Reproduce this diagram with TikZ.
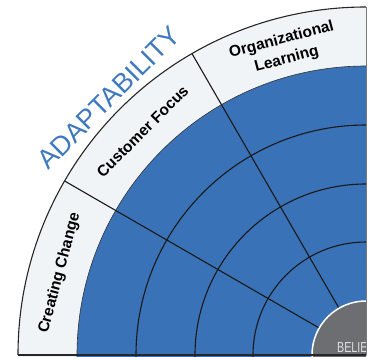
\documentclass[tikz,border=0pt]{standalone}
\usepackage{fontspec}
\setmainfont{Liberation Sans}
\definecolor{ringblue}{RGB}{58,114,183}
\definecolor{bandgray}{RGB}{241,244,246}
\definecolor{coregray}{RGB}{109,110,114}
\definecolor{titleblue}{RGB}{62,121,192}
\definecolor{edgegray}{RGB}{120,120,120}
\begin{document}
\begin{tikzpicture}[x=1pt,y=1pt]%,cap=round]
	\useasboundingbox (-366,-1) rectangle (5,355);
	\coordinate (M) at (0,0);
	\coordinate (L) at (-348,0);
	\tikzset{ringline/.style={line width=1.1pt,black!90},
		sectorlabel/.style={font=\bfseries\fontsize{15.5}{20}\selectfont}}
	\begin{scope}
		\clip (-366,-1) rectangle (0,356);
		\fill[bandgray] (M) circle (348);
		\fill[ringblue] (M) circle (289);
		\draw[line width=0.6pt,black!80] (M) circle (289);
		\foreach \r in {230,171,113}
			\draw[ringline] (M) circle (\r);
		\draw[ringline] (120:54) -- (120:348);
		\draw[ringline] (150:54) -- (150:348);
		\fill[coregray,draw=white,line width=1.5pt] (M) circle (54);
		\node[anchor=base west,text=black!12,font=\fontsize{14.5}{16}\selectfont,inner sep=0pt,xscale=0.74] (beliefs) at (-29,3) {BELIE};
	\end{scope}
	\draw[line width=1.1pt,black!85] (L) arc (180:90:348);
	\draw[line width=1.1pt,black!85] (L) -- (M);
	\draw[edgegray,line width=0.8pt] (M) -- (0,348);
	% labels of the three sectors
	\node[rotate=75,sectorlabel] (creating) at (165:317) {Creating Change};
	\node[rotate=45,sectorlabel] (customer) at (135:316) {Customer Focus};
	\node[rotate=15,align=center,sectorlabel] (organizational) at (105:316) {Organizational\\Learning};
	\node[rotate=45,text=titleblue,font=\fontsize{27}{30}\selectfont] (adaptability) at (135:364) {ADAPTABILITY};
\end{tikzpicture}
\end{document}
